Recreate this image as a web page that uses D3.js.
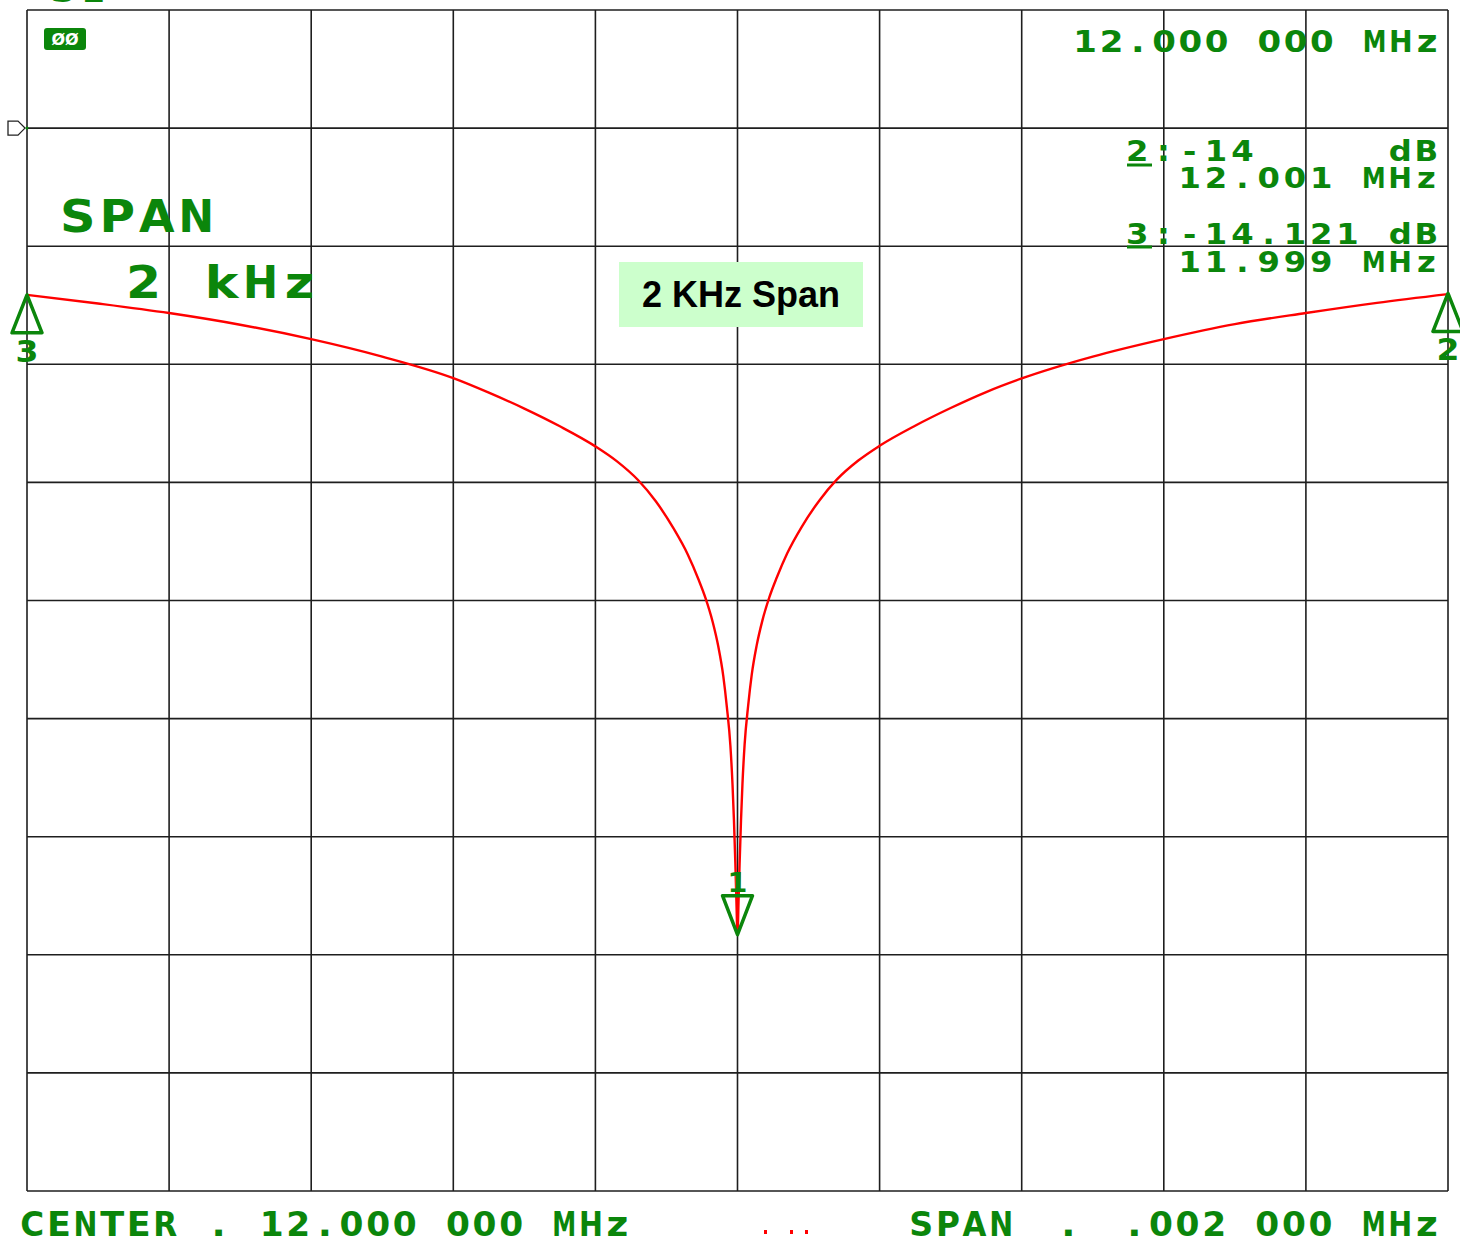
<!DOCTYPE html>
<html>
<head>
<meta charset="utf-8">
<script src="https://cdn.jsdelivr.net/npm/d3@7"></script>
<style>
  html, body { margin: 0; padding: 0; background: #fff; }
  svg { display: block; }
  .g { fill: #0b860b; font-family: "DejaVu Sans", sans-serif; font-weight: bold; }
</style>
</head>
<body>
<script>
// ---- data ----
const freqOffsetHz = [-1000, -900, -800, -700, -600, -500, -400, -350, -300, -250, -200, -170, -140, -115, -90, -70, -55, -45, -35, -27, -20, -15, -10, -7, -5, -3, -1.5, 0, 1.5, 3, 5, 7, 10, 15, 20, 27, 35, 45, 55, 70, 90, 115, 140, 170, 200, 250, 300, 350, 400, 500, 600, 700, 800, 900, 1000];
const traceDb = [-14.12, -14.85, -15.66, -16.65, -17.87, -19.35, -21.17, -22.4, -23.75, -25.25, -26.95, -28.2, -29.8, -31.6, -33.9, -36.1, -38.2, -39.8, -41.8, -43.9, -46.4, -49.0, -52.3, -55.6, -58.6, -62.3, -65.5, -68.3, -65.4, -62.2, -58.5, -55.5, -52.2, -48.9, -46.3, -43.8, -41.7, -39.7, -38.1, -36.0, -33.8, -31.55, -29.75, -28.15, -26.9, -25.2, -23.7, -22.35, -21.2, -19.35, -17.87, -16.6, -15.66, -14.8, -14.06];
const markerIds = ["1", "2", "3"];
const markerHz = [0, 1000, -1000];
const markerDb = [-68.3, -14, -14.121];
const xGridHz = [-1000, -800, -600, -400, -200, 0, 200, 400, 600, 800, 1000];
const yGridDb = [10, 0, -10, -20, -30, -40, -50, -60, -70, -80, -90];
const refLevelDb = 0;

const W = 1460, H = 1238;
const svg = d3.select("body").append("svg").attr("width", W).attr("height", H);

const x = d3.scaleLinear().domain([-1000, 1000]).range([27, 1448]);
const y = d3.scaleLinear().domain([10, -90]).range([10, 1191]);

// grid
const grid = svg.append("g").attr("stroke", "#1e1e1e").attr("stroke-width", 1.6);
grid.selectAll("line.v").data(xGridHz).enter().append("line")
  .attr("x1", d => x(d)).attr("x2", d => x(d)).attr("y1", y(10)).attr("y2", y(-90));
grid.selectAll("line.h").data(yGridDb).enter().append("line")
  .attr("y1", d => y(d)).attr("y2", d => y(d)).attr("x1", x(-1000)).attr("x2", x(1000));

// reference level marker
const ry = y(refLevelDb);
svg.append("path")
  .attr("d", `M8,${ry-7} L18,${ry-7} L25,${ry} L18,${ry+7} L8,${ry+7} Z`)
  .attr("fill", "none").attr("stroke", "#222").attr("stroke-width", 1.3);
svg.append("circle").attr("cx", x(-1000)).attr("cy", ry).attr("r", 1.5).attr("fill", "#0b860b");

// trace
const pts = freqOffsetHz.map((f, i) => [f, traceDb[i]]);
svg.append("path").datum(pts)
  .attr("d", d3.line().x(d => x(d[0])).y(d => y(d[1])).curve(d3.curveMonotoneX))
  .attr("fill", "none").attr("stroke", "#ff0000").attr("stroke-width", 2.4);

// monospaced plotter-style text: each character in its own fixed cell
function mono(str, x0, base, size, pitch, sx) {
  const g = svg.append("g").attr("class", "g").attr("font-size", size);
  [...str].forEach((c, i) => {
    if (c === " ") return;
    const cx = x0 + (i + 0.5) * pitch;
    const t = g.append("text").attr("text-anchor", "middle")
      .attr("transform", `translate(${cx},${base})`).text(c);
    const w = t.node().getComputedTextLength();
    const s = Math.min(sx, (pitch * 0.9) / w);
    t.attr("transform", `translate(${cx},${base}) scale(${s.toFixed(3)},1)`);
  });
  return g;
}

// markers
const mk = svg.append("g").attr("stroke", "#0b860b").attr("stroke-width", 3.5).attr("fill", "none").attr("stroke-linejoin", "round");
markerIds.forEach((id, i) => {
  const mx = x(markerHz[i]), my = y(markerDb[i]);
  if (id === "1") {
    mk.append("path").attr("d", `M${mx},${my} L${mx-15},${my-39} L${mx+15},${my-39} Z`);
    mono(id, mx - 12, my - 43, 26, 24, 1.1);
  } else {
    mk.append("path").attr("d", `M${mx},${my} L${mx-15},${my+38} L${mx+15},${my+38} Z`);
    mono(id, mx - 13, my + 67, 30, 26, 1.1);
  }
});

// top-left status badge
svg.append("rect").attr("x", 44).attr("y", 28).attr("width", 42).attr("height", 22).attr("rx", 3).attr("fill", "#0b860b");
svg.append("text").attr("x", 65).attr("y", 45).attr("text-anchor", "middle").attr("fill", "#fff")
  .attr("font-family", "DejaVu Sans").attr("font-weight", "bold").attr("font-size", 16).text("ØØ");
mono("S1", 48, 2, 30, 30, 1.15);

// header
mono("12.000 000 MHz", 1072, 52, 31, 26.3, 1.15);
mono("2:-14     dB", 1124, 161, 28, 26.3, 1.15);
mono("  12.001 MHz", 1124, 188, 28, 26.3, 1.15);
mono("3:-14.121 dB", 1124, 244, 28, 26.3, 1.15);
mono("  11.999 MHz", 1124, 272, 28, 26.3, 1.15);
svg.append("line").attr("x1", 1127).attr("x2", 1152).attr("y1", 165).attr("y2", 165).attr("stroke", "#0b860b").attr("stroke-width", 3);
svg.append("line").attr("x1", 1127).attr("x2", 1152).attr("y1", 247).attr("y2", 247).attr("stroke", "#0b860b").attr("stroke-width", 3);

mono("SPAN", 58, 232, 44, 39.5, 1.15);
mono("2 kHz", 124, 298, 44, 39, 1.15);

// footer
mono("CENTER . 12.000 000 MHz", 19, 1236, 34, 26.6, 1.1);
mono("SPAN", 908, 1236, 34, 26.6, 1.1);
mono(".", 1055, 1236, 34, 26.6, 1.1);
mono(".002 000 MHz", 1121, 1236, 34, 26.6, 1.1);
svg.append("g").attr("fill", "#ff0000").selectAll("rect").data([764, 790, 805]).enter().append("rect")
  .attr("x", d => d).attr("y", 1230).attr("width", 3).attr("height", 4);

// annotation box
svg.append("rect").attr("x", 619).attr("y", 262).attr("width", 244).attr("height", 65).attr("fill", "#ccffcc");
svg.append("text").attr("x", 741).attr("y", 307).attr("text-anchor", "middle")
  .attr("font-family", "Liberation Sans, Arial, sans-serif").attr("font-weight", "bold")
  .attr("font-size", 36).attr("fill", "#000").text("2 KHz Span");
</script>
</body>
</html>
